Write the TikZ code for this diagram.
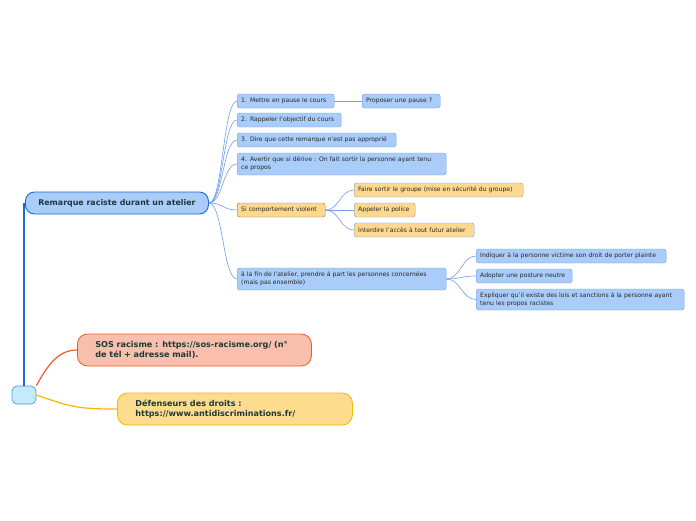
\documentclass[tikz,border=0pt]{standalone}
\usepackage{fontspec}
\setmainfont{DejaVu Sans}
\definecolor{rootfill}{HTML}{A9CCF8}
\definecolor{rootline}{HTML}{1B66D8}
\definecolor{leaffill}{HTML}{A9CCF8}
\definecolor{leafline}{HTML}{6E9FE8}
\definecolor{warnfill}{HTML}{FDD98F}
\definecolor{warnline}{HTML}{8C7447}
\definecolor{hubfill}{HTML}{C6E9FB}
\definecolor{hubline}{HTML}{4A9FD8}
\definecolor{sosfill}{HTML}{F8BFAC}
\definecolor{sosline}{HTML}{F05A28}
\definecolor{deffill}{HTML}{FEDC8D}
\definecolor{defline}{HTML}{F9B700}
\definecolor{darktext}{HTML}{1C3A3A}
\begin{document}
\begin{tikzpicture}[x=1pt,y=-1pt]
\tikzstyle{every node}+=[inner ysep=0pt]
\tikzstyle{leaf}=[draw=leafline,fill=leaffill,rounded corners=2.5pt,anchor=west,align=left,
  inner xsep=4pt,minimum height=14pt,text=black!85,font=\fontsize{6.1}{8}\selectfont]
\tikzstyle{bigleaf}=[leaf,minimum height=22pt]
\tikzstyle{warnleaf}=[leaf,fill=warnfill]
\tikzstyle{twig}=[leafline,line width=0.6pt]
\tikzstyle{topic}=[rounded corners=10pt,anchor=west,align=left,inner xsep=18pt,minimum height=32pt,
  text=darktext,font=\fontsize{8.1}{10}\selectfont\bfseries,line width=0.8pt]
\useasboundingbox (0,0) rectangle (696,520);
% main topic
\node[draw=rootline,fill=rootfill,rounded corners=9pt,line width=0.9pt,anchor=west,minimum width=183pt,
  minimum height=22pt,text=darktext,font=\fontsize{7.9}{9}\selectfont\bfseries] (root) at (25,203) {Remarque raciste durant un atelier};
% first level
\node[leaf,text width=89pt] (pause) at (237,101) {1. Mettre en pause le cours};
\node[leaf,text width=70pt] (propose) at (362,101) {Proposer une pause ?};
\node[leaf,text width=96pt] (rappel) at (237,120) {2. Rappeler l'objectif du cours};
\node[leaf,text width=151pt] (dire) at (237,140) {3. Dire que cette remarque n'est pas approprié};
\node[bigleaf,text width=201pt] (avertir) at (237,164) {4. Avertir que si dérive : On fait sortir la personne ayant tenu\\ce propos};
\node[leaf,fill=warnfill,draw=warnline,text width=80pt] (violent) at (237,210) {Si comportement violent};
\node[bigleaf,text width=201pt] (fin) at (237,279) {à la fin de l'atelier, prendre à part les personnes concernées\\(mais pas ensemble)};
% second level
\node[warnleaf,text width=161pt] (sortir) at (354,190) {Faire sortir le groupe (mise en sécurité du groupe)};
\node[warnleaf,text width=53pt] (police) at (354,210) {Appeler la police};
\node[warnleaf,text width=112pt] (interdire) at (354,230) {Interdire l'accès à tout futur atelier};
\node[leaf,text width=182pt] (plainte) at (476,256) {Indiquer à la personne victime son droit de porter plainte};
\node[leaf,text width=88pt] (posture) at (476,276) {Adopter une posture neutre};
\node[leaf,minimum height=21pt,text width=200pt] (expliquer) at (476,299.5) {Expliquer qu'il existe des lois et sanctions à la personne ayant\\tenu les propos racistes};
% floating topics
\node[draw=hubline,fill=hubfill,rounded corners=5pt,line width=0.7pt,minimum width=24pt,minimum height=18pt] (hub) at (24,395) {};
\node[topic,draw=sosline,fill=sosfill,text width=198pt] (sos) at (77,350) {SOS racisme : https://sos-racisme.org/ (n°\\de tél + adresse mail).};
\node[topic,draw=defline,fill=deffill,text width=199pt] (defense) at (117,409) {Défenseurs des droits :\\https://www.antidiscriminations.fr/};
% connectors
\foreach \kid in {pause,rappel,dire,avertir,violent,fin}
  \draw[twig] (root.east) .. controls +(14,0) and +(-14,0) .. (\kid.west);
\draw[twig] (pause.east) -- (propose.west);
\foreach \kid in {sortir,police,interdire}
  \draw[twig] (violent.east) .. controls +(14,0) and +(-14,0) .. (\kid.west);
\foreach \kid in {plainte,posture,expliquer}
  \draw[twig] (fin.east) .. controls +(14,0) and +(-14,0) .. (\kid.west);
\draw[rootline,line width=1.3pt] (hub.north) -- (hub.north |- root.west);
\draw[sosline,line width=1.2pt] (hub.north east) .. controls +(12,-22) and +(-18,0) .. (sos.west);
\draw[defline,line width=1.2pt] (hub.east) .. controls +(35,12) and +(-40,0) .. (defense.west);
\end{tikzpicture}
\end{document}
